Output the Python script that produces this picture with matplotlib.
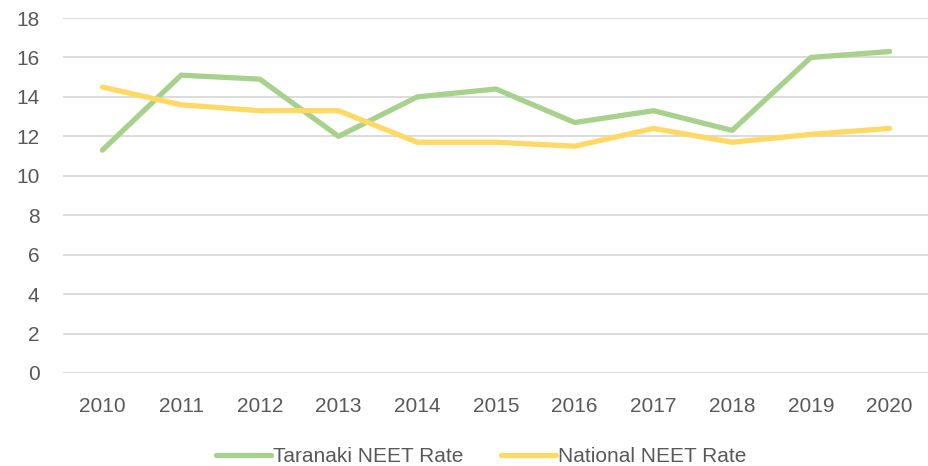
import matplotlib
matplotlib.use("Agg")
import matplotlib.pyplot as plt

years = ["2010", "2011", "2012", "2013", "2014", "2015", "2016", "2017", "2018", "2019", "2020"]
taranaki = [11.3, 15.1, 14.9, 12.0, 14.0, 14.4, 12.7, 13.3, 12.3, 16.0, 16.3]
national = [14.5, 13.6, 13.3, 13.3, 11.7, 11.7, 11.5, 12.4, 11.7, 12.1, 12.4]
yticks = list(range(0, 19, 2))

plt.rcParams['font.family'] = ['Liberation Sans', 'DejaVu Sans']
fig = plt.figure(figsize=(9.29, 4.66), dpi=100)
ax = fig.add_axes([63/929, 1 - 373/466, (929 - 63)/929, (373 - 18)/466])

x = list(range(len(years)))
ax.plot(x, taranaki, color="#A9D18E", lw=3.8, solid_capstyle="round", solid_joinstyle="round", label="Taranaki NEET Rate")
ax.plot(x, national, color="#FFD966", lw=3.8, solid_capstyle="round", solid_joinstyle="round", label="National NEET Rate")

ax.set_xlim(-0.5, len(years) - 0.5)
ax.set_ylim(0, 18)
ax.set_yticks(yticks)
ax.set_xticks(x)
ax.set_xticklabels(years)
ax.grid(axis="y", color="#D9D9D9", lw=1.3)
ax.set_axisbelow(True)
for s in ax.spines.values():
    s.set_visible(False)
ax.tick_params(axis="both", length=0, colors="#595959", labelsize=15)
ax.tick_params(axis="x", pad=17)
ax.tick_params(axis="y", pad=17)

leg = fig.legend(loc="center", bbox_to_anchor=(481/929, 1 - 457/466), ncol=2, frameon=False,
                 fontsize=15, handlelength=2.65, handletextpad=0.1, columnspacing=1.8)
for t in leg.get_texts():
    t.set_color("#595959")

fig.savefig("out.png", dpi=100)
